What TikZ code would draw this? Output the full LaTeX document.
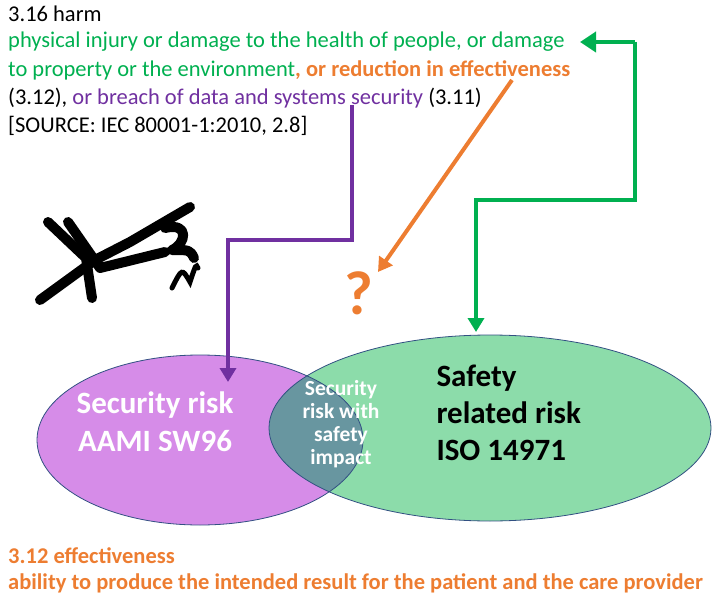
\documentclass[tikz,border=0pt]{standalone}
\usepackage{fontspec}
\setmainfont{Carlito}
\usetikzlibrary{arrows.meta}
\definecolor{tgreen}{RGB}{0,176,80}
\definecolor{tpurple}{RGB}{112,48,160}
\definecolor{torange}{RGB}{237,125,49}
\definecolor{pfill}{RGB}{214,140,232}
\definecolor{gfill}{RGB}{140,220,170}
\definecolor{ofill}{RGB}{104,150,160}
\definecolor{eline}{RGB}{50,80,130}
\begin{document}
\begin{tikzpicture}[x=1pt,y=-1pt,
 txt/.style={anchor=west,inner sep=0,font=\fontsize{22.5}{27}\selectfont,align=left},
 big/.style={font=\fontsize{31}{38}\selectfont\bfseries,text=white,align=center},
 conn/.style={line width=4.5pt,-{Triangle[length=14pt,width=16pt]}},
 scr/.style={line width=10pt,line cap=round,line join=round}]
\useasboundingbox (0,0) rectangle (720,599);
\fill[pfill] (200,440) ellipse [x radius=163,y radius=85];
\fill[gfill] (490,428) ellipse [x radius=221,y radius=93];
\begin{scope}
\clip (200,440) ellipse [x radius=163,y radius=85];
\fill[ofill] (490,428) ellipse [x radius=221,y radius=93];
\end{scope}
\draw[eline,line width=0.8pt] (200,440) ellipse [x radius=163,y radius=85];
\draw[eline,line width=0.8pt] (490,428) ellipse [x radius=221,y radius=93];
\node[big] (sec) at (155,422) {Security risk\\AAMI SW96};
\node[font=\fontsize{21.5}{23}\selectfont\bfseries,text=white,align=center] (mix) at (341,424) {Security\\risk with\\safety\\impact};
\node[font=\fontsize{31}{37}\selectfont\bfseries,align=left,anchor=west] (saf) at (433,413) {Safety\\related risk\\ISO 14971};
\node[txt] (t1) at (8,14) {3.16 harm};
\node[txt,text=tgreen] (t2) at (8,42) {physical injury or damage to the health of people, or damage};
\node[txt] (t3) at (8,70) {\textcolor{tgreen}{to property or the environment}\textcolor{torange}{\bfseries, or reduction in effectiveness}};
\node[txt] (t4) at (8,98) {(3.12), \textcolor{tpurple}{or breach of data and systems security} (3.11)};
\node[txt] (t5) at (8,126) {[SOURCE: IEC 80001-1:2010, 2.8]};
\node[font=\fontsize{62}{62}\selectfont\bfseries,text=torange] (q) at (359,293) {?};
\node[txt,text=torange,font=\fontsize{22.5}{27}\selectfont\bfseries] (e1) at (8,556) {3.12 effectiveness};
\node[txt,text=torange,font=\fontsize{22.5}{27}\selectfont\bfseries] (e2) at (8,583) {ability to produce the intended result for the patient and the care provider};
\coordinate (ps) at (352,105); \coordinate (pe) at (228,382);
\coordinate (gs) at (635,42); \coordinate (ge) at (476,332);
\coordinate (gh) at (580,42);
\coordinate (os) at (512,80); \coordinate (oe) at (378,272);
\draw[conn,tpurple] (ps) -- (352,240) -- (228,240) -- (pe);
\draw[conn,tgreen] (gs) -- (635,200) -- (476,200) -- (ge);
\draw[line width=4.5pt,tgreen] (598,42) -- (gs);
\draw[line width=4.5pt,tgreen,-{Triangle[length=16pt,width=20pt]}] (600,42) -- (gh);
\draw[conn,torange,line width=4pt] (os) -- (oe);
\draw[scr] (68,222) -- (100,268) -- (165,252);
\draw[scr] (48,222) -- (86,258) -- (92,298);
\draw[scr] (40,300) -- (95,260) -- (130,242) -- (190,207);
\draw[scr] (165,228) .. controls (190,222) and (186,244) .. (172,250) .. controls (190,250) .. (194,258);
\draw[line width=5pt,line cap=round] (172,288) .. controls (182,268) .. (190,282) .. controls (196,264) .. (198,268);
\end{tikzpicture}
\end{document}
